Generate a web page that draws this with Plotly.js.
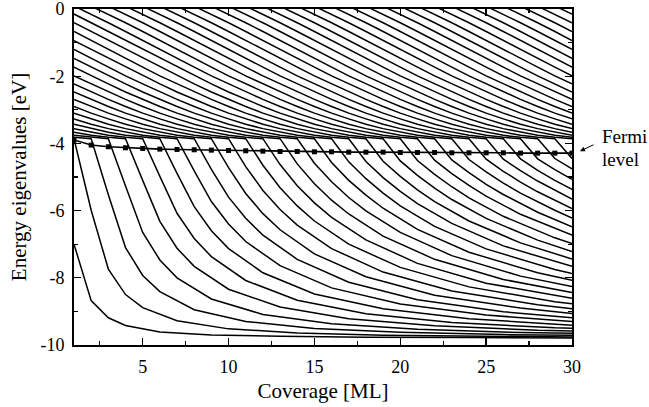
<!DOCTYPE html>
<html><head><meta charset="utf-8">
<script src="https://cdn.plot.ly/plotly-3.0.1.min.js"></script>
<style>html,body{margin:0;padding:0;background:#fff}</style>
</head><body><div id="chart" style="width:649px;height:407px"></div>
<script>
// Coverage axis (ML)
const coverage = [1,2,3,4,5,6,7,8,9,10,11,12,13,14,15,16,17,18,19,20,21,22,23,24,25,26,27,28,29,30];
// Fermi level (eV) at each coverage
const fermiLevel = [-3.90,-4.05,-4.10,-4.13,-4.15,-4.17,-4.18,-4.19,-4.20,-4.21,-4.22,-4.23,-4.24,-4.24,-4.25,
                    -4.25,-4.26,-4.26,-4.26,-4.27,-4.27,-4.27,-4.28,-4.28,-4.28,-4.28,-4.29,-4.29,-4.29,-4.29];
// Unoccupied levels above the gap (eV), counted upward from the band bottom
const upperLevels = [-3.86,-3.82,-3.76,-3.67,-3.56,-3.43,-3.27,-3.10,-2.90,-2.69,-2.47,
                     -2.23,-1.99,-1.73,-1.47,-1.20,-0.94,-0.67,-0.41,-0.15,0.09,0.33];
// Coverage offsets (from the coverage where a state drops below the gap) at which the lower-band energies are read
const lowerOffsets = [0,1,2,3,5,8,12,17,23];
// Lower-band eigenvalues (eV) of state k, read at coverage k+offset (last value at 30 ML)
const lowerBand = [
  [-7.00,-8.68,-9.19,-9.42,-9.61,-9.70,-9.74,-9.77,-9.78,-9.79],
  [-5.99,-7.74,-8.50,-8.89,-9.28,-9.52,-9.64,-9.71,-9.74,-9.76],
  [-5.53,-7.10,-7.93,-8.41,-8.95,-9.30,-9.51,-9.62,-9.69,-9.71],
  [-5.27,-6.65,-7.47,-8.00,-8.63,-9.09,-9.37,-9.53,-9.63,-9.65],
  [-5.10,-6.32,-7.12,-7.66,-8.34,-8.87,-9.22,-9.43,-9.56,-9.58],
  [-4.98,-6.08,-6.83,-7.37,-8.08,-8.67,-9.07,-9.33,-9.49,-9.50],
  [-4.89,-5.88,-6.60,-7.13,-7.85,-8.48,-8.92,-9.22,-9.41],
  [-4.82,-5.73,-6.40,-6.92,-7.64,-8.30,-8.78,-9.11,-9.30],
  [-4.77,-5.60,-6.23,-6.73,-7.45,-8.13,-8.65,-9.01,-9.19],
  [-4.72,-5.49,-6.09,-6.57,-7.29,-7.97,-8.52,-8.90,-9.06],
  [-4.69,-5.40,-5.97,-6.43,-7.13,-7.83,-8.39,-8.80,-8.92],
  [-4.65,-5.32,-5.86,-6.31,-7.00,-7.69,-8.27,-8.71,-8.77],
  [-4.63,-5.26,-5.77,-6.20,-6.87,-7.57,-8.16,-8.61],
  [-4.61,-5.20,-5.69,-6.10,-6.76,-7.45,-8.05,-8.44],
  [-4.59,-5.14,-5.61,-6.01,-6.65,-7.34,-7.95,-8.26],
  [-4.57,-5.10,-5.54,-5.93,-6.56,-7.24,-7.85,-8.07],
  [-4.55,-5.05,-5.48,-5.86,-6.47,-7.14,-7.75,-7.87],
  [-4.54,-5.02,-5.43,-5.79,-6.38,-7.05,-7.66],
  [-4.53,-4.98,-5.38,-5.73,-6.31,-6.96,-7.44],
  [-4.52,-4.95,-5.33,-5.67,-6.23,-6.88,-7.22],
  [-4.51,-4.92,-5.29,-5.62,-6.17,-6.81,-6.98],
  [-4.50,-4.90,-5.25,-5.57,-6.11,-6.73],
  [-4.49,-4.87,-5.22,-5.52,-6.05,-6.48],
  [-4.48,-4.85,-5.18,-5.48,-5.99,-6.22],
  [-4.47,-4.83,-5.15,-5.44,-5.94],
  [-4.47,-4.81,-5.12,-5.40,-5.66],
  [-4.46,-4.80,-5.10,-5.37],
  [-4.46,-4.78,-5.07],
  [-4.45,-4.76],
  [-4.45]
];
const xTickVals = [5,10,15,20,25,30];
const xTickText = ['5','10','15','20','25','30'];
const yTickVals = [0,-2,-4,-6,-8,-10];
const yTickText = ['0','-2','-4','-6','-8','-10'];

const maxCov = coverage[coverage.length-1];
const traces = [];
const nUp = upperLevels.length;
for (let k = 1; k <= maxCov + nUp; k++) {
  const xs = [], ys = [];
  const startN = Math.max(coverage[0], k - nUp);
  for (let n = startN; n <= Math.min(k - 1, maxCov); n++) {
    xs.push(n); ys.push(upperLevels[k - n - 1]);
  }
  if (k <= lowerBand.length) {
    const vals = lowerBand[k - 1];
    const ns = lowerOffsets.map(o => k + o).filter(n => n <= maxCov);
    if (ns[ns.length - 1] !== maxCov) ns.push(maxCov);
    ns.forEach((n, i) => { if (i < vals.length) { xs.push(n); ys.push(vals[i]); } });
  }
  if (xs.length > 1) {
    traces.push({x: xs, y: ys, mode: 'lines', type: 'scatter',
      line: {color: '#000', width: 1.5}, hoverinfo: 'skip', showlegend: false});
  }
}
traces.push({x: coverage, y: fermiLevel, mode: 'lines+markers', type: 'scatter',
  line: {color: '#000', width: 1.6},
  marker: {symbol: 'square', size: 5, color: '#000'},
  hoverinfo: 'skip', showlegend: false});

const serif = 'Liberation Serif, Times New Roman, Times, serif';
const layout = {
  width: 649, height: 407,
  margin: {l: 74, r: 77, t: 9, b: 62},
  paper_bgcolor: '#fff', plot_bgcolor: '#fff',
  font: {family: serif, size: 18, color: '#000'},
  showlegend: false,
  xaxis: {
    range: [1, 30], tickmode: 'array', tickvals: xTickVals, ticktext: xTickText,
    ticks: 'inside', ticklen: 7, tickwidth: 1.3, tickcolor: '#000', ticklabelstandoff: 4,
    ticklabeloverflow: 'allow',
    showline: true, linewidth: 2, linecolor: '#000', mirror: 'ticks',
    showgrid: false, zeroline: false,
    minor: {tickmode: 'linear', tick0: 0, dtick: 2.5, ticks: 'inside', ticklen: 4, tickwidth: 1.2, tickcolor: '#000', showgrid: false},
    tickfont: {family: serif, size: 18, color: '#000'},
    title: {text: 'Coverage [ML]', font: {family: serif, size: 21, color: '#000'}, standoff: 8}
  },
  yaxis: {
    range: [-10, 0], tickmode: 'array', tickvals: yTickVals, ticktext: yTickText,
    ticks: 'inside', ticklen: 7, tickwidth: 1.3, tickcolor: '#000', ticklabelstandoff: 4,
    ticklabeloverflow: 'allow',
    showline: true, linewidth: 2, linecolor: '#000', mirror: 'ticks',
    showgrid: false, zeroline: false,
    minor: {tickmode: 'linear', tick0: 0, dtick: 1, ticks: 'inside', ticklen: 4, tickwidth: 1.2, tickcolor: '#000', showgrid: false},
    tickfont: {family: serif, size: 18, color: '#000'},
    title: {text: 'Energy eigenvalues [eV]', font: {family: serif, size: 21, color: '#000'}, standoff: 8}
  },
  annotations: [
    {xref: 'paper', yref: 'paper', x: 1.056, y: 0.622, xanchor: 'left', yanchor: 'middle',
     text: 'Fermi', showarrow: false, font: {family: serif, size: 19, color: '#000'}},
    {xref: 'paper', yref: 'paper', x: 1.056, y: 0.551, xanchor: 'left', yanchor: 'middle',
     text: 'level', showarrow: false, font: {family: serif, size: 19, color: '#000'}},
    {xref: 'paper', yref: 'paper', x: 1.016, y: 0.577, ax: 15, ay: -7, text: '',
     showarrow: true, arrowhead: 2, arrowsize: 1, arrowwidth: 1, arrowcolor: '#000'}
  ]
};
Plotly.newPlot('chart', traces, layout, {displayModeBar: false, staticPlot: true});
</script>
</body></html>
